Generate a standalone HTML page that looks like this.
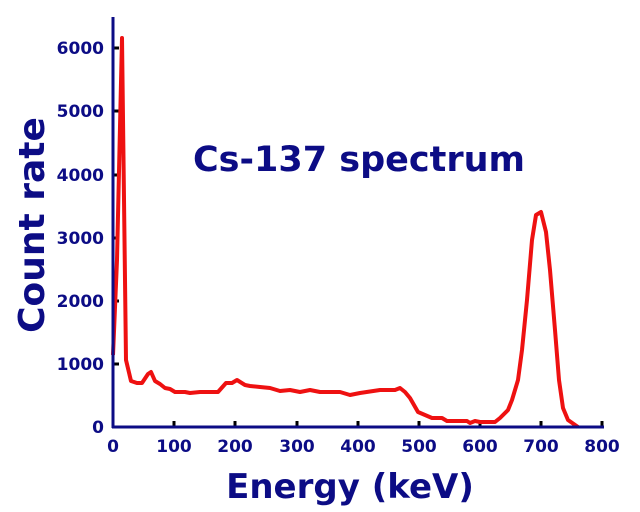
<!DOCTYPE html>
<html><head><meta charset="utf-8"><style>
html,body{margin:0;padding:0;background:#fff;width:640px;height:512px;overflow:hidden}
text{font-family:"DejaVu Sans","Liberation Sans",sans-serif;font-weight:bold;fill:#0c0c85}
</style></head><body>
<svg width="640" height="512" viewBox="0 0 640 512" xmlns="http://www.w3.org/2000/svg">
<g stroke="#000" stroke-width="3">
<line x1="113" y1="364" x2="119" y2="364"/><line x1="113" y1="301" x2="119" y2="301"/>
<line x1="113" y1="238" x2="119" y2="238"/><line x1="113" y1="175" x2="119" y2="175"/>
<line x1="113" y1="111" x2="119" y2="111"/><line x1="113" y1="48" x2="119" y2="48"/>
<line x1="174" y1="427" x2="174" y2="421"/><line x1="235" y1="427" x2="235" y2="421"/>
<line x1="297" y1="427" x2="297" y2="421"/><line x1="358" y1="427" x2="358" y2="421"/>
<line x1="419" y1="427" x2="419" y2="421"/><line x1="480" y1="427" x2="480" y2="421"/>
<line x1="541" y1="427" x2="541" y2="421"/><line x1="602" y1="427" x2="602" y2="421"/>
</g>
<polyline fill="none" stroke="#ee1111" stroke-width="4" stroke-linejoin="round" points="113,355 117,260 122,38 126,360 131,381 137,383 142,383 148,374 151,372 155,381 160,384 165,388 170,389 175,392 185,392 190,393 200,392 215,392 218,392 226,383 232,383 237,380 245,385 250,386 260,387 270,388 280,391 290,390 300,392 310,390 320,392 340,392 350,395 360,393 380,390 395,390 400,388 405,392 410,398 414,405 418,412 425,415 432,418 442,418 447,421 467,421 470,423 475,421 480,422 495,422 500,418 508,410 512,400 518,380 522,350 527,300 532,240 536,215 541,212 546,232 550,270 555,330 559,380 563,408 568,420 578,427"/>
<line x1="113" y1="17" x2="113" y2="428" stroke="#0c0c85" stroke-width="3"/>
<line x1="112" y1="427" x2="604" y2="427" stroke="#0c0c85" stroke-width="3"/>
<g font-size="17" text-anchor="end">
<text x="104" y="433">0</text><text x="104" y="370">1000</text><text x="104" y="307">2000</text>
<text x="104" y="244">3000</text><text x="104" y="181">4000</text><text x="104" y="117">5000</text><text x="104" y="54">6000</text>
</g>
<g font-size="17" text-anchor="middle">
<text x="113" y="452">0</text><text x="174" y="452">100</text><text x="235" y="452">200</text><text x="297" y="452">300</text>
<text x="358" y="452">400</text><text x="419" y="452">500</text><text x="480" y="452">600</text><text x="541" y="452">700</text><text x="602" y="452">800</text>
</g>
<text x="359" y="171" font-size="35" text-anchor="middle">Cs-137 spectrum</text>
<text x="350" y="498" font-size="34" text-anchor="middle">Energy (keV)</text>
<text transform="translate(44,225) rotate(-90)" font-size="36" text-anchor="middle">Count rate</text>
</svg>
</body></html>
